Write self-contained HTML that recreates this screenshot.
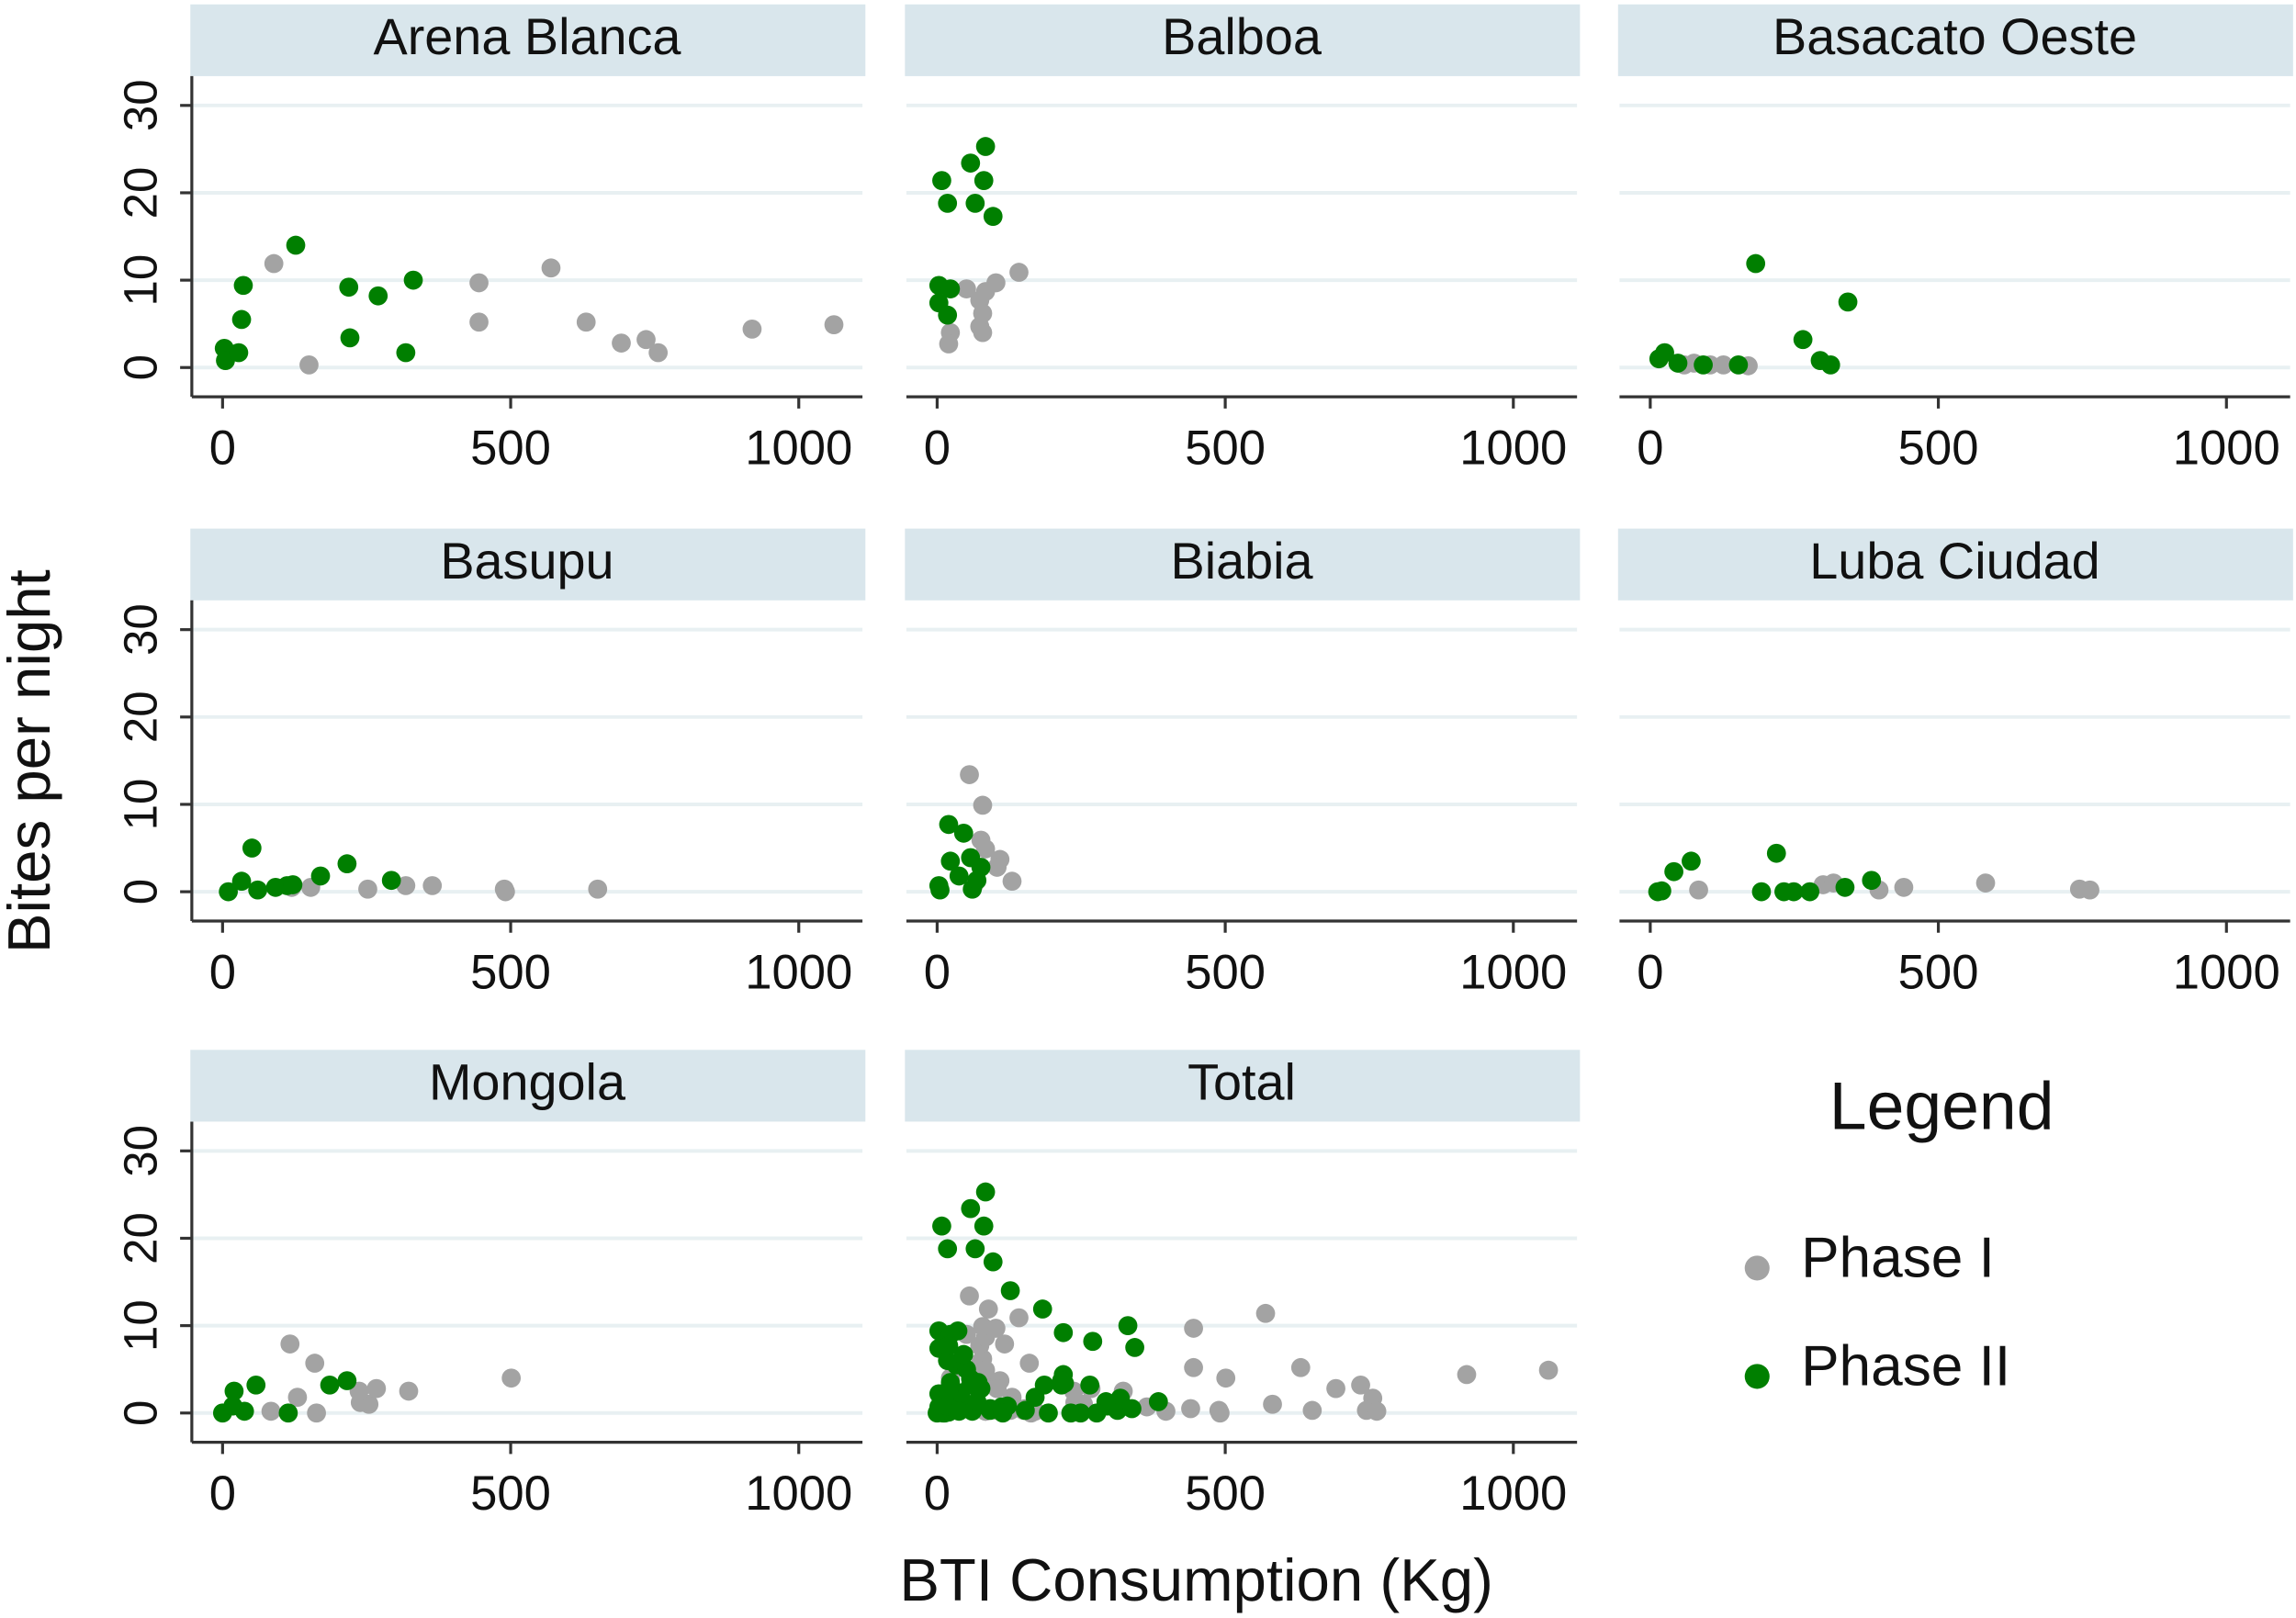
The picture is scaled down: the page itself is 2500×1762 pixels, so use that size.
<!DOCTYPE html>
<html><head><meta charset="utf-8"><style>
html,body{margin:0;padding:0;background:#fff;}
svg{display:block;font-family:"Liberation Sans",Arial,sans-serif;}
</style></head><body>
<svg id="chart" width="2500" height="1762" viewBox="0 0 1568 1105" preserveAspectRatio="none" xmlns="http://www.w3.org/2000/svg"></svg>
<script>
const panelNames = ["Arena Blanca","Balboa","Basacato Oeste","Basupu","Biabia","Luba Ciudad","Mongola","Total"];
const xTicks = [0,500,1000];
const yTicks = [0,10,20,30];
// [x kg, bites] per site
const arenaP1 = [[89,11.9],[150,0.3],[445,5.2],[445,9.7],[570,11.4],[631,5.2],[692,2.8],[735,3.2],[756,1.7],[919,4.4],[1061,4.9]];
const arenaP2 = [[127,14],[36,9.4],[33,5.5],[3,2.2],[5,0.8],[28,1.7],[219,9.2],[270,8.2],[221,3.4],[331,10],[318,1.7]];
const balboaP1 = [[51,9],[102,9.7],[142,10.9],[74,7.7],[79,6.2],[74,4.7],[79,4],[23,4],[20,2.7],[84,8.7]];
const balboaP2 = [[84,25.3],[58,23.4],[8,21.4],[81,21.4],[18,18.8],[66,18.8],[97,17.3],[3,9.4],[23,9],[3,7.4],[18,6]];
const basacatoP1 = [[59,0.3],[76,0.5],[104,0.3],[127,0.3],[170,0.2]];
const basacatoP2 = [[183,11.9],[265,3.2],[295,0.8],[313,0.3],[343,7.5],[15,1],[25,1.7],[48,0.5],[92,0.3],[153,0.3]];
const basupuP1 = [[153,0.5],[252,0.3],[318,0.7],[364,0.7],[489,0.3],[491,0],[651,0.3],[120,0.5]];
const basupuP2 = [[10,0],[33,1.2],[51,5],[61,0.2],[92,0.5],[112,0.7],[122,0.8],[170,1.8],[216,3.2],[293,1.3]];
const biabiaP1 = [[56,13.4],[79,9.9],[76,5.9],[84,4.9],[109,3.7],[104,2.8],[130,1.2],[64,0.8]];
const biabiaP2 = [[20,7.7],[46,6.7],[23,3.5],[58,3.9],[38,1.8],[76,2.8],[5,0.2],[3,0.7],[61,0.3],[69,1.3]];
const lubaP1 = [[84,0.2],[300,0.8],[318,1],[397,0.2],[440,0.5],[582,1],[745,0.3],[763,0.2]];
const lubaP2 = [[13,0],[20,0.1],[41,2.3],[71,3.5],[219,4.4],[193,0],[232,0],[249,0],[277,0],[338,0.5],[384,1.3]];
const mongolaP1 = [[117,7.9],[160,5.7],[130,1.8],[163,0],[84,0.2],[239,1.2],[254,1],[267,2.8],[323,2.5],[501,4],[237,2.5]];
const mongolaP2 = [[0,0],[18,0.8],[20,2.5],[38,0.2],[58,3.2],[114,0],[186,3.2],[216,3.7]];

const p1Sets=[arenaP1,balboaP1,basacatoP1,basupuP1,biabiaP1,lubaP1,mongolaP1];
const p2Sets=[arenaP2,balboaP2,basacatoP2,basupuP2,biabiaP2,lubaP2,mongolaP2];
p1Sets.push([].concat(...p1Sets));
p2Sets.push([].concat(...p2Sets));

const NS="http://www.w3.org/2000/svg";
const svg=document.getElementById('chart');
function mk(tag,attrs,parent){const e=document.createElementNS(NS,tag);for(const k in attrs)e.setAttribute(k,attrs[k]);(parent||svg).appendChild(e);return e;}
const colX=[130,618,1105], rowY=[3,361,717];
const GREY="#a3a3a3", GREEN="#007f00";

panelNames.forEach((name,i)=>{
  const c=i%3, r=Math.floor(i/3);
  const left=colX[c], top=rowY[r];
  const g=mk('g',{});
  
  
  const x0=left+22, xs=(393.5)/1000;
  const y0=top+248, ys=179/30;
  const sx=v=>x0+v*xs, sy=v=>y0-v*ys;
  const hdr=mk('rect',{x:left,y:top,width:461,height:49,fill:"#d9e6ec"},g);
  
  
  const ht=mk('text',{x:left+230,y:top+34,'text-anchor':'middle','font-size':35,fill:'#111'},g);
  ht.textContent=name;
  
  
  yTicks.forEach(t=>{
    const gl=mk('line',{x1:left+1,x2:left+459,y1:sy(t),y2:sy(t),stroke:'#e8f0f2','stroke-width':2.5},g);
    
    
  });
  const axisY=top+268;
  const xa=mk('line',{x1:left+1,x2:left+459,y1:axisY,y2:axisY,stroke:'#333','stroke-width':2},g);
  
  
  xTicks.forEach(t=>{
    mk('line',{x1:sx(t),x2:sx(t),y1:axisY,y2:axisY+8,stroke:'#333','stroke-width':2},g);
    const tl=mk('text',{x:sx(t),y:axisY+46,'text-anchor':'middle','font-size':33,fill:'#111'},g);
    tl.textContent=t;
    
    
  });
  if(c===0){
    const ya=mk('line',{x1:left+1,x2:left+1,y1:top+49,y2:axisY,stroke:'#333','stroke-width':2},g);
    
    
    yTicks.forEach(t=>{
      mk('line',{x1:left-7,x2:left+1,y1:sy(t),y2:sy(t),stroke:'#333','stroke-width':2},g);
      const tl=mk('text',{x:0,y:0,'text-anchor':'middle','font-size':32,fill:'#111',transform:`translate(${left-23},${sy(t)}) rotate(-90)`},g);
      tl.textContent=t;
      
      
    });
  }
  p1Sets[i].forEach(d=>{
    const pt=mk('circle',{cx:sx(d[0]),cy:sy(d[1]),r:6.5,fill:GREY},g);
    
    
  });
  p2Sets[i].forEach(d=>{
    const pt=mk('circle',{cx:sx(d[0]),cy:sy(d[1]),r:6.5,fill:GREEN},g);
    
    
  });
});

const yt=mk('text',{x:0,y:0,'text-anchor':'middle','font-size':41,fill:'#111',transform:'translate(34,520) rotate(-90)'});
yt.textContent='Bites per night';


const xt=mk('text',{x:817,y:1093,'text-anchor':'middle','font-size':41,fill:'#111'});
xt.textContent='BTI Consumption (Kg)';



const lg=mk('g',{});


const lt=mk('text',{x:1326,y:771,'text-anchor':'middle','font-size':46,fill:'#111'},lg);
lt.textContent='Legend';


[["Phase I",GREY,866],["Phase II",GREEN,940]].forEach(e=>{
  const m=mk('circle',{cx:1200,cy:e[2],r:8.5,fill:e[1]},lg);
  
  
  const t=mk('text',{x:1230,y:e[2]+6,'font-size':39,fill:'#111'},lg);
  t.textContent=e[0];
  
  
});
</script>
</body></html>
